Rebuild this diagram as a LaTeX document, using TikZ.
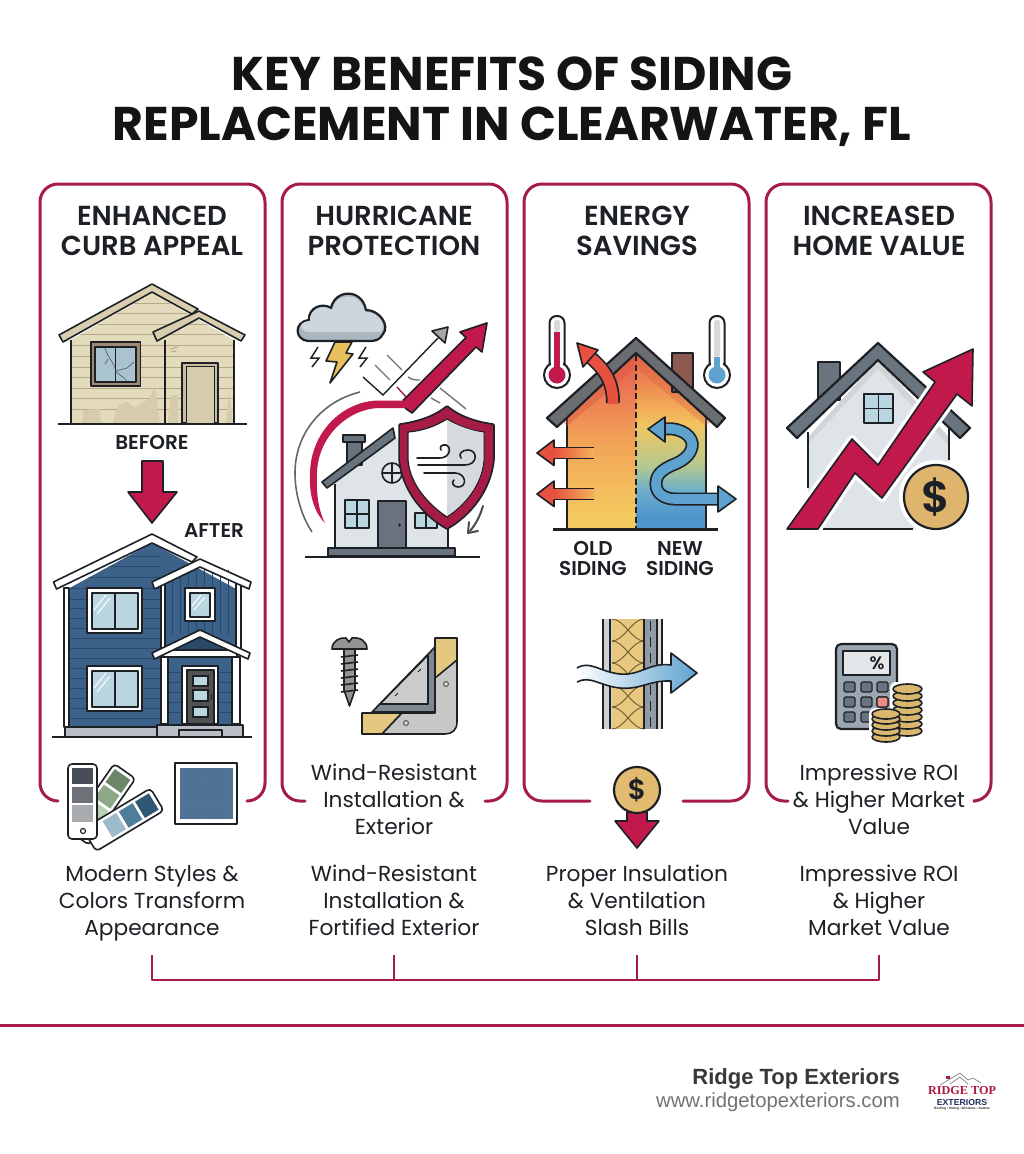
\documentclass[tikz,border=0pt]{standalone}
\usepackage{fontspec}
\setmainfont{Poppins}[BoldFont=* SemiBold]
\newfontfamily\heavyfont{Poppins Bold}
\newfontfamily\footfont{Liberation Sans}
\newfontfamily\logofont{Liberation Serif}
\usetikzlibrary{calc}
\definecolor{crim}{HTML}{A61C45}
\definecolor{crimf}{HTML}{C1194C}
\definecolor{ink}{HTML}{1D2126}
\definecolor{tan1}{HTML}{E4DABC}
\definecolor{tan2}{HTML}{B5A98A}
\definecolor{tan3}{HTML}{D6CBAB}
\definecolor{navy}{HTML}{3C628A}
\definecolor{navyd}{HTML}{2A4A6B}
\definecolor{glass}{HTML}{BAD6E1}
\definecolor{slate}{HTML}{69747E}
\definecolor{wall}{HTML}{DFE4E8}
\definecolor{gold}{HTML}{E3BB70}
\definecolor{redar}{HTML}{E8503F}
\definecolor{bluar}{HTML}{5EA3CF}
\newcommand{\rkdc}[1]{\definecolor{h#1}{HTML}{#1}}
\rkdc{6D8568}\rkdc{8FA988}\rkdc{BCD0B0}\rkdc{2F5672}\rkdc{4F7E9A}\rkdc{9DBCCB}\rkdc{474E57}\rkdc{6C7278}\rkdc{A9ACAE}\rkdc{4F7496}\rkdc{A9B5BF}\rkdc{CDD6DD}\rkdc{E8C15C}\rkdc{E5C87F}\rkdc{D8563F}\rkdc{8C5A50}\rkdc{6A6D72}\rkdc{F3B45A}\rkdc{E8C77F}\rkdc{8F9AA3}\rkdc{6E5A30}\rkdc{DFB56E}\rkdc{9AA6B0}\rkdc{E3E7EA}\rkdc{F08A84}\rkdc{D9B86E}\rkdc{1F2F5C}\rkdc{D6DADE}\rkdc{4F96CC}\rkdc{6FAECB}\rkdc{B3C990}\rkdc{F2C560}\rkdc{EF8A50}\rkdc{E86A4A}\rkdc{F4C75F}\rkdc{F2A356}\rkdc{EA6D52}\rkdc{E8604F}\rkdc{B9BFC5}\rkdc{A08A75}\rkdc{A9C4D0}
\pgfdeclareverticalshading{newside}{100bp}{color(0bp)=(h4F96CC);color(29bp)=(h4F96CC);color(36bp)=(h6FAECB);color(43bp)=(hB3C990);color(54.5bp)=(hF2C560);color(66bp)=(hEF8A50);color(75bp)=(hE86A4A);color(100bp)=(hE86A4A)}
\pgfdeclareverticalshading{oldside}{100bp}{color(0bp)=(hF4C75F);color(30bp)=(hF4C75F);color(50bp)=(hF2A356);color(68bp)=(hEA6D52);color(75bp)=(hE8604F);color(100bp)=(hE8604F)}
\tikzset{
 cardline/.style={draw=crim,line width=3pt,rounded corners=18pt,line cap=round},
 ttl/.style={font=\heavyfont\fontsize{47.3}{50}\selectfont,align=center,inner sep=0pt,text=black!92},
 hd/.style={font=\bfseries\fontsize{27.5}{30}\selectfont,align=center,inner sep=0pt,text=ink},
 lbl/.style={font=\bfseries\fontsize{20}{20}\selectfont,align=center,inner sep=0pt,text=ink},
 bdy/.style={font=\fontsize{21.7}{27}\selectfont,align=center,inner sep=0pt,text=ink},
 o/.style={draw=ink,line width=1.6pt,line join=round},
 o2/.style={draw=ink,line width=2.2pt,line join=round},
 thinl/.style={draw=ink,line width=1.2pt},
}
\begin{document}
\begin{tikzpicture}[x=1pt,y=-1pt]
\useasboundingbox (0,0) rectangle (1024,1154);
\fill[white] (0,0) rectangle (1024,1154);
% title
\node[ttl] (title) at (512,102) {KEY BENEFITS OF SIDING\\REPLACEMENT IN CLEARWATER, FL};
% cards
\draw[cardline] (58,801) -- (40,801) -- (40,184) -- (265,184) -- (265,801) -- (247,801);
\draw[cardline] (305,801) -- (282,801) -- (282,184) -- (507,184) -- (507,801) -- (485,801);
\draw[cardline] (590,801) -- (524,801) -- (524,184) -- (749,184) -- (749,801) -- (683,801);
\draw[cardline] (788,801) -- (766,801) -- (766,184) -- (991,184) -- (991,801) -- (975,801);
\node[hd] (h1) at (152,231) {ENHANCED\\CURB APPEAL};
\node[hd] (h2) at (394,231) {HURRICANE\\PROTECTION};
\node[hd] (h3) at (637,231) {ENERGY\\SAVINGS};
\node[hd] (h4) at (879,231) {INCREASED\\HOME VALUE};

% ---------- BEFORE house
\begin{scope}
\clip (71,423) -- (71,340) -- (152,293) -- (199,320) -- (234,340) -- (234,423) -- cycle;
\fill[tan1] (60,280) rectangle (240,423);
\foreach \yy in {303,313,324,334,345,356,367,377,388,398,409} \draw[tan2,line width=1pt] (60,\yy) -- (240,\yy);
\fill[tan3] (82,423) -- (83,410) -- (100,409) -- (101,423) -- cycle;
\fill[tan3] (113,423) -- (118,405) -- (127,402) -- (135,408) -- (150,398) -- (155,385) -- (160,423) -- cycle;
\fill[tan3] (168,423) -- (171,395) -- (178,395) -- (178,423) -- cycle;
\fill[tan3] (226,423) -- (229,390) -- (233,423) -- cycle;
\end{scope}
\draw[o] (71,340) -- (71,423) (165,340) -- (165,423) (234,340) -- (234,423);
\draw[tan2,line width=1pt] (170,349) -- (178,347) (171,352) -- (176,351);
\draw[o,fill=tan1!75!tan2] (59,335) -- (152,284) -- (198,309) -- (192,314) -- (152,292) -- (63,342) -- cycle;
\draw[o,fill=tan1!75!tan2] (153,332) -- (199,311) -- (245,335) -- (241,341) -- (199,318) -- (157,341) -- cycle;
\draw[o,fill=hA08A75] (91,342) rectangle (140.5,386);
\draw[o,fill=hA9C4D0] (95,347) rectangle (136,382);
\draw[ink,line width=1.6pt] (115.5,347) -- (115.5,382);
\draw[ink!70,line width=.7pt] (105,348) .. controls (108,358) and (112,360) .. (115,368) (115,371) -- (124,378) -- (127,381) (116,371) -- (127,368) -- (134,362) (108,359) -- (105,364);
\draw[o,fill=tan2!60!tan1] (182,363) rectangle (218,423);
\draw[ink,line width=1pt,fill=tan3] (186,366) rectangle (214,423);
\draw[ink,line width=2pt] (58,423.5) -- (247,423.5);
\node[lbl] (before) at (152,442) {BEFORE};
\draw[o,fill=crimf] (142,461) -- (163,461) -- (163,492) -- (177,492) -- (152,523) -- (128,492) -- (142,492) -- cycle;
\node[lbl] (after) at (214,531) {AFTER};

% ---------- AFTER house
\fill[navy] (66,590) -- (152,543) -- (238,590) -- (238,727) -- (66,727) -- cycle;
\begin{scope}
\clip (66,590) -- (152,543) -- (198,567) -- (160,590) -- (160,727) -- (66,727) -- cycle;
\foreach \yy in {556,566,577,588,599,608,618,628,638,648,658,668,678,688,698,708,718} \draw[navyd,line width=1pt] (60,\yy) -- (160,\yy);
\end{scope}
\foreach \xx in {172,180,188,196,204,212,220,228} \draw[navyd,line width=.9pt] (\xx,570) -- (\xx,634);
\fill[navyd] (170,661) rectangle (232,668);
\draw[o,fill=white] (64,588) rectangle (69,727);
\draw[o,fill=white] (53.5,582) -- (152,534) -- (197,557) -- (192,562) -- (152,543) -- (56.5,589) -- cycle;
\draw[o,fill=white] (161,582) rectangle (165,650);
\draw[o,fill=white] (236,582) rectangle (241,650);
\draw[o,fill=white] (152,582) -- (200,559) -- (251,582) -- (249,589) -- (200,567) -- (154.5,589) -- cycle;
\foreach \yy in {588,666} {
 \draw[o,fill=white] (87,\yy) rectangle (142,\yy+45);
 \draw[o,fill=glass] (92,\yy+5) rectangle (138,\yy+41);
 \draw[ink,line width=1.6pt] (115,\yy+5) -- (115,\yy+41);
 \draw[white,line width=1pt] (94,\yy+22) -- (106,\yy+7) (97,\yy+26) -- (110,\yy+10);
}
\draw[o,fill=white] (185,588) rectangle (215,621);
\draw[o,fill=glass] (190,593) rectangle (210,617);
\draw[white,line width=1pt] (192,606) -- (201,595) (194,610) -- (205,597);
\fill[navy] (163,657) rectangle (237,725);
\foreach \yy in {672,682,692,702,712} \draw[navyd,line width=.9pt] (165,\yy) -- (182,\yy) (218,\yy) -- (235,\yy);
\fill[navy] (165,652) -- (200,637) -- (235,652) -- cycle;
\fill[navyd] (190,641) -- (200,637) -- (210,641) -- (225,650) -- (175,650) -- cycle;
\draw[o,fill=white] (163,650) rectangle (237,657);
\draw[o,fill=white] (161,657) rectangle (168,724);
\draw[o,fill=white] (232,657) rectangle (240,724);
\draw[o,fill=white] (152,653) -- (200,630) -- (250,653) -- (248,659) -- (200,637) -- (154.5,659) -- cycle;
\draw[o,fill=white] (182,666) rectangle (218,724);
\draw[o,fill=black!68] (187,670) rectangle (214,724);
\foreach \yy/\zz in {676/686,690/701,707/717} \draw[thinl,fill=glass] (193,\yy) rectangle (208,\zz);
\draw[ink,line width=1pt] (211,694) -- (211,700);
\draw[o,fill=hB9BFC5] (65,727) rectangle (157,736.5);
\draw[o,fill=hB9BFC5] (157,725) rectangle (243,736.5);
\draw[o,fill=hB9BFC5] (179,730) rectangle (222,736.5);
\draw[ink,line width=1.6pt] (52,737) -- (252,737);

% swatches
\begin{scope}[shift={(83,831)},rotate=-35]
\draw[o,fill=white,rounded corners=4pt] (-13,-73) rectangle (13,8);
\fill[h6D8568] (-9.5,-69) rectangle (9.5,-53);
\fill[h8FA988] (-9.5,-50) rectangle (9.5,-34);
\fill[hBCD0B0] (-9.5,-31) rectangle (9.5,-15);
\end{scope}
\begin{scope}[shift={(98,835)},rotate=-59]
\draw[o,fill=white,rounded corners=4pt] (-13,-69) rectangle (13,10);
\fill[h2F5672] (-9.5,-65) rectangle (9.5,-49);
\fill[h4F7E9A] (-9.5,-46) rectangle (9.5,-30);
\fill[h9DBCCB] (-9.5,-27) rectangle (9.5,-11);
\end{scope}
\draw[o,fill=white,rounded corners=4pt] (68,764) rectangle (97,839);
\fill[h474E57] (72,768) rectangle (93,784);
\fill[h6C7278] (72,787) rectangle (93,803);
\fill[hA9ACAE] (72,805) rectangle (93,822);
\draw[ink,line width=1.2pt,fill=white] (83,831) circle[radius=2.5pt];
\draw[o,fill=white] (175,763) rectangle (237,824);
\fill[h4F7496] (180,768) rectangle (233,819);
\foreach \i in {0,...,16} \foreach \j in {0,...,16}
  \fill[navyd,opacity=.2] ({181+3*\i+mod(\j*7,3)*.5},{769+3*\j+mod(\i*5,3)*.4}) circle[radius=.6pt];

% ---------- Hurricane
\draw[black!60,line width=1.6pt] (360,392) .. controls (320,402) and (295,435) .. (295,473) .. controls (295,495) and (302,517) .. (312,532);
\draw[o2,fill=hA9B5BF] (308,341) .. controls (295,340) and (293,322) .. (309,320) .. controls (308,308) and (322,302) .. (331,308) .. controls (335,289) and (362,288) .. (366,310) .. controls (380,310) and (390,326) .. (383,334) .. controls (380,340) and (375,341) .. (370,341) -- cycle;
\fill[hCDD6DD] (310,332) .. controls (300,332) and (296,322) .. (310,321) .. controls (309,310) and (322,303) .. (332,310) .. controls (336,292) and (361,291) .. (365,312) .. controls (378,312) and (387,324) .. (381,332) -- cycle;
\draw[o,fill=hE8C15C] (335,342) -- (352,342) -- (346,353) -- (353,354) -- (330,383) -- (337,362) -- (326,361) -- cycle;
\draw[ink,line width=1.5pt] (318,347) -- (311,358) -- (319,358) -- (312,367);
\draw[ink,line width=1.5pt] (366,347) -- (359,358) -- (367,358) -- (360,367);
% broken lines
\draw[black!55,line width=1.4pt] (375,365) -- (390,380) (387,355) -- (402,370) (408,377) .. controls (412,380) and (416,380) .. (420,380) (440,388) -- (466,409) (431,398) -- (440,403);
\draw[crim,line width=1.4pt] (397,387) -- (407,398);
% thin arrow
\draw[ink,line width=1.4pt] (363,377) -- (383,395) -- (438,338);
\draw[o,fill=black!35] (448,327) -- (432,331) -- (445,343) -- cycle;
% house
\fill[wall] (335,482) -- (393,436) -- (448,470) -- (448,548) -- (335,548) -- cycle;
\draw[o] (335,484) -- (335,548) (448,520) -- (448,548);
\draw[o,fill=slate] (347,442) rectangle (362,465);
\draw[o,fill=slate] (343,435) rectangle (365,442);
\draw[o,fill=slate] (322,482) -- (393,428) -- (395,438) -- (327,488) -- cycle;
\draw[o,fill=glass] (345,500) rectangle (369,528);
\draw[ink,line width=1.6pt] (357,500) -- (357,528) (345,514) -- (369,514);
\draw[o,fill=slate] (378,501) rectangle (406,548);
\fill[ink] (399.5,525) circle[radius=1.6pt];
\draw[o,fill=glass] (415,513) rectangle (437,528);
\draw[ink,line width=1.6pt] (426,513) -- (426,528);
\draw[o,fill=wall] (392,473) circle[radius=10pt];
\draw[ink,line width=1.4pt] (392,463) -- (392,483) (382,473) -- (402,473);
\draw[o,fill=slate] (328,548) rectangle (455,556);
\draw[ink,line width=1.8pt] (305,557) -- (480,557);
% swoop
\fill[crimf] (325,523) .. controls (312,510) and (309,490) .. (310,473) .. controls (311,430) and (345,400) .. (380,400.5) -- (403,400.5) -- (466,337.5) -- (460,332) -- (487,323) -- (482,352) -- (476,347) -- (412,413) -- (405,408) -- (380,408) .. controls (350,408) and (318,435) .. (317,473) .. controls (316,490) and (318,510) .. (325,523) -- cycle;
\draw[o] (403,400.5) -- (466,337.5) -- (460,332) -- (487,323) -- (482,352) -- (476,347) -- (412,413) -- (405,408);
% shield
\draw[ink,line width=3.5pt,line join=round] (447,407) .. controls (460,418) and (478,423) .. (493,425) -- (493,460) .. controls (490,490) and (470,515) .. (447,528) .. controls (424,515) and (403,490) .. (400,460) -- (400,425) .. controls (415,423) and (434,418) .. (447,407) -- cycle;
\fill[crim] (447,407) .. controls (460,418) and (478,423) .. (493,425) -- (493,460) .. controls (490,490) and (470,515) .. (447,528) .. controls (424,515) and (403,490) .. (400,460) -- (400,425) .. controls (415,423) and (434,418) .. (447,407) -- cycle;
\draw[ink,line width=1.2pt,fill=white] (447,419) .. controls (458,426) and (472,431) .. (484,432) -- (484,460) .. controls (482,485) and (465,505) .. (447,517) .. controls (429,505) and (410,485) .. (408,460) -- (408,432) .. controls (422,431) and (436,426) .. (447,419) -- cycle;
\fill[hD6DADE] (447,420) .. controls (458,426) and (472,431) .. (483.4,432.6) -- (483.4,460) .. controls (481,485) and (465,504) .. (447,516) -- cycle;
\draw[ink,line width=1.6pt,line cap=round] (417,458) -- (440,458) .. controls (450,458) and (452,447) .. (446,445) .. controls (442,444) and (439,447) .. (441,450);
\draw[ink,line width=1.6pt,line cap=round] (418,465) -- (465,465) .. controls (478,465) and (478,450) .. (468,450) .. controls (462,450) and (458,454) .. (461,458);
\draw[ink,line width=1.6pt,line cap=round] (424,473) -- (455,473) .. controls (466,473) and (468,487) .. (458,487) .. controls (453,487) and (451,482) .. (454,480);
\draw[black!70,line width=2pt,line cap=round] (483,506) .. controls (480,516) and (476,524) .. (470,531);
\draw[black!70,line width=2pt,line cap=round,line join=round] (469,522) -- (468,533) -- (478,531);

% screw
\draw[o,fill=black!42] (332,649) .. controls (332,641) and (340,637) .. (346,638) -- (349,642) -- (352,638) .. controls (360,637) and (367,641) .. (367,649) -- cycle;
\draw[o,fill=black!42] (344,649) -- (355,649) -- (355,690) -- (349.5,706) -- (344,690) -- cycle;
\foreach \yy in {655,662,669,676,683,690} \draw[ink,line width=1.6pt] (341,\yy+2) -- (358,\yy);
% bracket
\draw[o,fill=hE5C87F] (435,638) -- (457,638) -- (457,662) -- (435,680) -- cycle;
\draw[o,fill=hE5C87F] (362,713) -- (402,713) -- (382,734) -- (362,734) -- cycle;
\draw[o,fill=black!22] (457,660) -- (457,722) .. controls (457,730) and (452,734) .. (445,734) -- (382,734) -- (402,713) -- (435,713) -- (435,678) -- cycle;
\fill[slate!85] (435,647) -- (435,712) -- (372,712) -- cycle;
\draw[o] (372,712) -- (435,647) -- (435,712) -- cycle;
\draw[o,fill=black!20] (428,655) -- (428,704) -- (380,704) -- cycle;
\draw[ink,line width=1pt] (421,669) -- (418,672) (398,693) -- (395,696);
\draw[black!65,line width=1.1pt,fill=black!10] (446,684) circle[radius=2.4pt] (406,723) circle[radius=2.4pt];
\node[bdy] (t2a) at (394,799) {Wind-Resistant\\Installation \&\\Exterior};
\node[bdy] (t2b) at (394,900) {Wind-Resistant\\Installation \&\\Fortified Exterior};

% ---------- Energy house
\shade[shading=oldside] (567,529) -- (567,412) -- (636,353) -- (636,529) -- cycle;
\shade[shading=newside] (636,529) -- (636,353) -- (706,412) -- (706,529) -- cycle;
\draw[ink,line width=2pt] (567,418) -- (567,529) (706,418) -- (706,529);
\fill[hD8563F,opacity=.4] (567,426) -- (636,368) -- (636,353) -- (560,420) -- cycle;
\fill[hD8563F,opacity=.3] (706,426) -- (636,368) -- (636,353) -- (712,420) -- cycle;
\draw[o,fill=h8C5A50] (672,353) rectangle (693,392);
\draw[o2,fill=h6A6D72] (636,338) -- (725,418) -- (717,427) -- (636,353) -- (557,427) -- (547,418) -- cycle;
\draw[ink,line width=2pt,dash pattern=on 6pt off 3.5pt] (636,355) -- (636,529);
\draw[ink,line width=2.2pt] (553,529.5) -- (718,529.5);
% thermometers
\foreach \cx/\tp/\cc/\uu in {557/332/crimf/black!15,717/357/bluar/black!15} {
 \draw[ink,line width=2pt,fill=white,rounded corners=7pt] (\cx-7.5,316) rectangle (\cx+7.5,372);
 \draw[ink,line width=2pt,fill=white] (\cx,375) circle[radius=13pt];
 \fill[white] (\cx-6.4,360) rectangle (\cx+6.4,372);
 \fill[\uu,rounded corners=2pt] (\cx-3,320) rectangle (\cx+3,\tp);
 \fill[\cc] (\cx-3,\tp) rectangle (\cx+3,372);
 \fill[\cc] (\cx,375) circle[radius=8.5pt];
}
% red arrows
\foreach \yy in {453,494} {
 \shade[left color=redar,right color=hF3B45A,draw=none] (554,\yy-5.5) rectangle (594,\yy+5.5);
 \draw[ink,line width=1.6pt] (594,\yy-5.5) -- (554,\yy-5.5) (594,\yy+5.5) -- (554,\yy+5.5);
 \draw[o,fill=redar] (554,\yy-5.5) -- (554,\yy-13) -- (537,\yy) -- (554,\yy+12.5) -- (554,\yy+5.5);
}
\draw[ink,line width=14pt] (613,403) .. controls (613,385) and (608,372) .. (590,357);
\draw[redar,line width=10.6pt] (613,404) .. controls (613,385) and (608,372) .. (590,357);
\draw[o,fill=redar] (577,343) -- (598,350) -- (583,367) -- cycle;
% blue S arrow
\draw[ink,line width=13pt] (664,429) .. controls (682,427) and (694,437) .. (692,447) .. controls (690,456) and (682,461) .. (675,464) .. controls (660,470) and (656,476) .. (656,484) .. controls (656,494) and (665,499) .. (675,499) -- (718,499);
\draw[bluar,line width=9.6pt] (664,429) .. controls (682,427) and (694,437) .. (692,447) .. controls (690,456) and (682,461) .. (675,464) .. controls (660,470) and (656,476) .. (656,484) .. controls (656,494) and (665,499) .. (675,499) -- (719,499);
\draw[o,fill=bluar] (648,429) -- (665,417) -- (665,442) -- cycle;
\draw[o,fill=bluar] (736,499) -- (718,486) -- (718,512) -- cycle;
\node[lbl] (oldl) at (593,558.5) {OLD\\SIDING};
\node[lbl] (newl) at (680,559) {NEW\\SIDING};
% insulation
\fill[black!18] (603,619) rectangle (612,729);
\fill[hE8C77F] (612,619) rectangle (644,729);
\fill[h8F9AA3] (644,619) rectangle (657,729);
\fill[black!15] (657,619) rectangle (662,729);
\begin{scope}
\clip (612,619) rectangle (644,729);
\foreach \yy in {597,619,641,663,685,707} {
 \draw[h6E5A30,line width=.9pt] (612,\yy) .. controls (624,\yy) and (632,\yy+22) .. (644,\yy+22);
 \draw[h6E5A30,line width=.9pt] (612,\yy+22) .. controls (624,\yy+22) and (632,\yy) .. (644,\yy);
}
\end{scope}
\draw[ink,line width=1.6pt] (603,619) -- (603,729) (610,619) -- (610,729) (644,619) -- (644,729) (657,619) -- (657,729) (662,619) -- (662,729);
\draw[ink,line width=1.2pt,dash pattern=on 10pt off 6pt] (650.5,621) -- (650.5,729);
\shade[left color=white,right color=bluar] (577,668) .. controls (590,660) and (600,672) .. (620,674) .. controls (640,676) and (650,662) .. (671,665) -- (671,653) -- (697,673) -- (671,693) -- (671,681) .. controls (650,680) and (640,690) .. (620,688) .. controls (600,686) and (590,675) .. (577,682) -- cycle;
\draw[o] (577,668) .. controls (590,660) and (600,672) .. (620,674) .. controls (640,676) and (650,662) .. (671,665) -- (671,653) -- (697,673) -- (671,693) -- (671,681) .. controls (650,680) and (640,690) .. (620,688) .. controls (600,686) and (590,675) .. (577,682);
% coin and arrow
\draw[o,fill=crimf] (627,812) -- (647,812) -- (647,821) -- (659,821) -- (637,848) -- (615,821) -- (627,821) -- cycle;
\node[o2,fill=gold,circle,minimum size=46pt,inner sep=0pt,font=\bfseries\fontsize{28}{28}\selectfont,text=ink] (coin1) at (637,790) {\$};
\node[bdy] (t3) at (637,900) {Proper Insulation\\\& Ventilation\\Slash Bills};

% ---------- Value house
\fill[wall] (808,438) -- (878,360) -- (949,438) -- (949,529) -- (808,529) -- cycle;
\fill[slate!30] (808,437) -- (878,360) -- (949,437) -- (949,446) -- (878,369) -- (808,444) -- cycle;
\draw[ink,line width=1.8pt] (808,432) -- (808,488) (949,428) -- (949,460) (823,529) -- (913,529);
\draw[o2,fill=slate] (818,362) rectangle (840,400);
\draw[o2,fill=slate] (878,343) -- (970,428) -- (960,438) -- (878,360) -- (797,438) -- (787,428) -- cycle;
\draw[o2,fill=glass] (864,394) rectangle (893,423);
\draw[ink,line width=1.8pt] (878.5,394) -- (878.5,423) (864,408.5) -- (893,408.5);
\draw[white,line width=8pt,line join=round] (787,529) -- (852,439) -- (878,465) -- (935,382) -- (923,372) -- (973,349) -- (972,406) -- (957,394) -- (882,498) -- (855,473) -- (818,529) -- cycle;
\draw[o,fill=crimf] (787,529) -- (852,439) -- (878,465) -- (935,382) -- (923,372) -- (973,349) -- (972,406) -- (957,394) -- (882,498) -- (855,473) -- (818,529) -- cycle;
\fill[white] (936,497) circle[radius=37pt];
\node[o2,fill=hDFB56E,circle,minimum size=64pt,inner sep=0pt,font=\bfseries\fontsize{44}{44}\selectfont,text=ink] (coin2) at (936,497) {\$};
% calculator
\draw[o2,fill=h9AA6B0,rounded corners=5pt] (836,644) rectangle (897,729);
\draw[o,fill=hE3E7EA] (843,651) rectangle (890,675);
\node[inner sep=0pt,font=\bfseries\fontsize{18}{18}\selectfont,text=ink] (pct) at (877,663) {\%};
\foreach \xa in {844,861,877} \foreach \ya in {682,697,712} \draw[ink,line width=1.1pt,fill=slate,rounded corners=1.5pt] (\xa,\ya) rectangle (\xa+11,\ya+10);
\draw[ink,line width=1.1pt,fill=hF08A84,rounded corners=1.5pt] (877,697) rectangle (888,707);
% coin stacks
\fill[white,rounded corners=6pt] (890,682) rectangle (925,740);
\fill[white,rounded corners=6pt] (869,708) rectangle (905,745);
\foreach \yy in {731,724,717,710,703,696,689} \draw[o,fill=hD9B86E] (907.5,\yy) ellipse[x radius=14.5pt,y radius=5pt];
\foreach \yy in {737,731,725,719,714} \draw[o,fill=hD9B86E] (886,\yy) ellipse[x radius=14pt,y radius=5pt];
\node[bdy] (t4a) at (879,799) {Impressive ROI\\\& Higher Market\\Value};
\node[bdy] (t4b) at (879,900) {Impressive ROI\\\& Higher\\Market Value};
\node[bdy] (t1) at (152,903) {Modern Styles \&\\Colors Transform\\Appearance};

% bracket
\coordinate (a1) at (152,955); \coordinate (a2) at (394,955); \coordinate (a3) at (637,955); \coordinate (a4) at (879,955);
\coordinate (b1) at (152,980); \coordinate (b2) at (394,980); \coordinate (b3) at (637,980); \coordinate (b4) at (879,980);
\draw[crim,line width=2.5pt,line join=round] (a1) -- (b1) -- (b4) -- (a4);
\draw[crim,line width=2.5pt] (a2) -- (b2) (a3) -- (b3);
\coordinate (r1) at (0,1025); \coordinate (r2) at (1024,1025);
\draw[crim,line width=3pt] (r1) -- (r2);
% footer
\node[anchor=east,inner sep=0pt,font=\footfont\bfseries\fontsize{22}{22}\selectfont,text=black!78] (fa) at (900,1079) {Ridge Top Exteriors};
\node[anchor=east,inner sep=0pt,font=\footfont\fontsize{20.3}{20}\selectfont,text=black!55] (fb) at (900,1102) {www.ridgetopexteriors.com};
\draw[black!50,line width=.7pt] (940,1085) -- (960,1073) -- (968,1080) -- (973,1078) -- (981,1083) (950,1084) -- (960,1077) -- (968,1084);
\fill[crim] (946,1076) rectangle (950,1079);
\node[inner sep=0pt,font=\logofont\bfseries\fontsize{12.2}{12}\selectfont,text=crim!90!red] (lg1) at (962,1091) {RIDGE TOP};
\node[inner sep=0pt,font=\footfont\bfseries\fontsize{8.7}{9}\selectfont,text=h1F2F5C] (lg2) at (962,1102) {EXTERIORS};
\node[inner sep=0pt,font=\footfont\bfseries\fontsize{3.2}{3.2}\selectfont,text=black!85] (lg3) at (962,1108.5) {Roofing • Siding • Windows • Gutters};
\end{tikzpicture}
\end{document}
